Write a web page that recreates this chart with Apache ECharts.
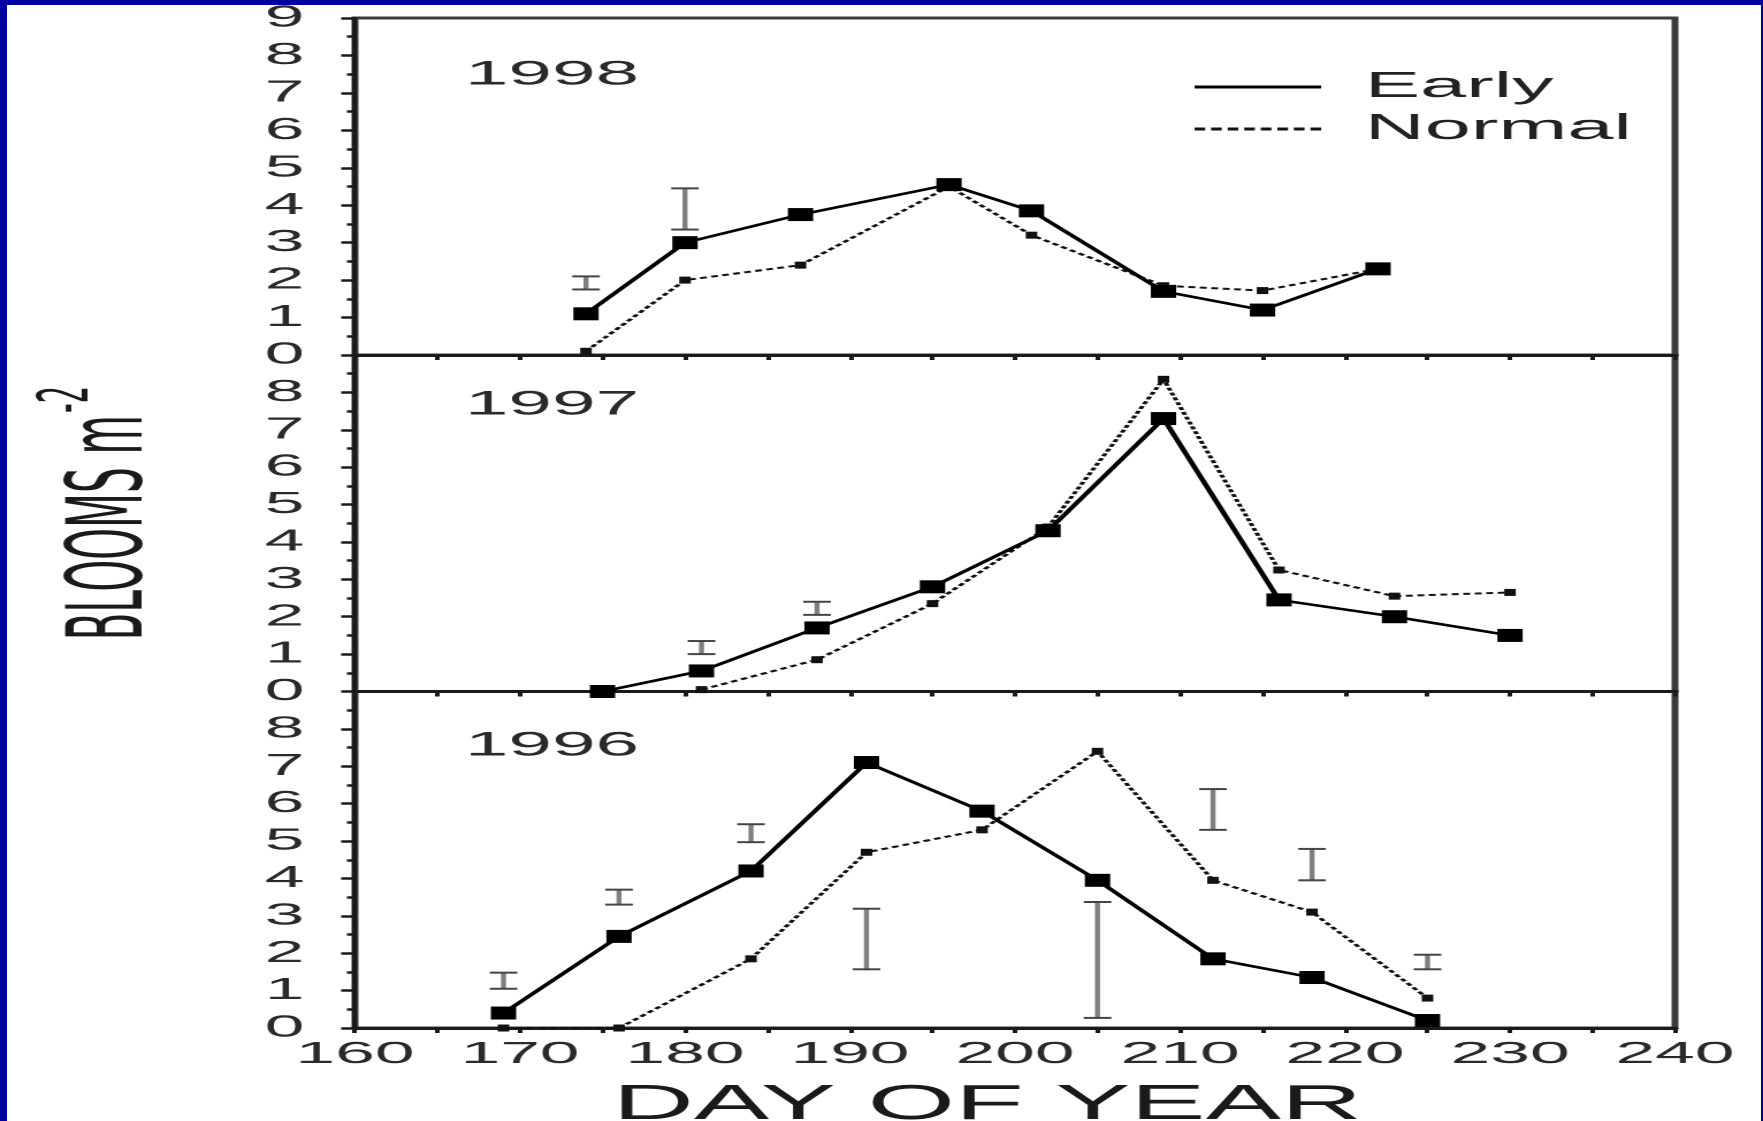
<!DOCTYPE html>
<html>
<head>
<meta charset="utf-8">
<title>Blooms m-2 by day of year</title>
<script src="https://cdn.jsdelivr.net/npm/echarts@6/dist/echarts.min.js"></script>
<style>
  html, body { margin: 0; padding: 0; background: #0000a0; }
  #page { position: relative; width: 1763px; height: 1121px; background: #0000a0; overflow: hidden; }
  #paper { position: absolute; left: 7px; top: 5px; width: 1754px; height: 1116px; background: #fff; }
  /* the original figure is stretched sideways, so the chart is drawn narrow and widened */
  #chart { position: absolute; left: 0; top: 0; width: 766px; height: 1121px; transform: scaleX(2.30157); transform-origin: 0 0; }
</style>
</head>
<body>
<div id="page"><div id="paper"></div><div id="chart"></div></div>
<script>
// 1998 (top panel)
const days1998 = [174, 180, 187, 196, 201, 209, 215, 222];
const early1998 = [1.1, 3.0, 3.75, 4.55, 3.85, 1.7, 1.2, 2.3];
const normal1998 = [0.1, 2.0, 2.4, 4.5, 3.2, 1.85, 1.72, 2.3];
const bars1998 = [[174, 1.75, 2.1], [180, 3.35, 4.45]];

// 1997 (middle panel)
const daysEarly1997 = [175, 181, 188, 195, 202, 209, 216, 223, 230];
const early1997 = [0, 0.55, 1.7, 2.8, 4.3, 7.3, 2.45, 2.0, 1.5];
const daysNormal1997 = [181, 188, 195, 202, 209, 216, 223, 230];
const normal1997 = [0.05, 0.85, 2.35, 4.4, 8.35, 3.25, 2.55, 2.65];
const bars1997 = [[181, 1.0, 1.35], [188, 2.05, 2.4]];

// 1996 (bottom panel)
const days1996 = [169, 176, 184, 191, 198, 205, 212, 218, 225];
const early1996 = [0.4, 2.45, 4.2, 7.1, 5.8, 3.95, 1.85, 1.35, 0.2];
const normal1996 = [0, 0, 1.85, 4.7, 5.3, 7.4, 3.95, 3.1, 0.8];
const bars1996 = [[169, 1.05, 1.48], [176, 3.3, 3.7], [184, 4.97, 5.45], [191, 1.57, 3.19],
                  [205, 0.27, 3.37], [212, 5.3, 6.39], [218, 3.95, 4.79], [225, 1.57, 1.96]];

const yearLabels = ['1998', '1997', '1996'];
const yTicks = [0, 9, 1];      // min, max, step
const xTicks = [160, 240, 5];

const SX = 1763 / 766;
const fontFamily = "'Liberation Sans', Arial, sans-serif";
const narrowFamily = "'Liberation Sans Narrow', 'DejaVu Sans Condensed', 'Liberation Sans', sans-serif";
const ink = '#1a1a1a';

const pairs = (days, vals) => days.map((d, k) => [d, vals[k]]);

// dashed legend sample
let dashPath = 'path://';
for (let k = 0; k < 8; k++) dashPath += 'M' + (k * 7) + ',0h4.5v1h-4.5z';

const gridLeft = 355 / SX;
const gridWidth = (1675 - 355) / SX;
const grids = [
    {top: 18, height: 337},
    {top: 355, height: 336.5},
    {top: 691.5, height: 336.5}
].map(g => ({
    ...g, left: gridLeft, width: gridWidth,
    outerBoundsMode: 'none', containLabel: false,
    show: true, borderColor: '#3a3a3a', borderWidth: 3
}));

const xAxes = [0, 1, 2].map(i => ({
    gridIndex: i,
    type: 'value',
    min: xTicks[0], max: xTicks[1], interval: xTicks[2],
    axisLine: {show: true, lineStyle: {color: ink, width: 3}},
    axisTick: {show: true, length: 5, lineStyle: {color: ink, width: 2}},
    axisLabel: {
        show: i === 2, margin: 11, fontSize: 31, color: '#2a2a2a', fontFamily,
        formatter: v => (v % 10 === 0 ? String(v) : '')
    },
    splitLine: {show: false},
    name: i === 2 ? 'DAY OF YEAR' : '',
    nameLocation: 'middle',
    nameGap: 53,
    nameTextStyle: {fontSize: 49, color: ink, fontFamily, padding: [0, 24, 0, 0]}
}));

const yAxes = [0, 1, 2].map(i => ({
    gridIndex: i,
    type: 'value',
    min: yTicks[0], max: yTicks[1], interval: yTicks[2],
    axisLine: {show: true, lineStyle: {color: ink, width: 2}},
    axisTick: {show: true, length: 6, lineStyle: {color: ink, width: 2.5}},
    minorTick: {show: true, splitNumber: 2, length: 3.5, lineStyle: {color: ink, width: 2.5}},
    axisLabel: {margin: 22, fontSize: 31, color: '#2a2a2a', fontFamily, showMaxLabel: i === 0},
    splitLine: {show: false},
    name: i === 1 ? '{a|BLOOMS m}{b|-2}' : '',
    nameLocation: 'middle',
    nameRotate: 90,
    nameGap: 82,
    nameTextStyle: {
        padding: [0, 0, 0, 20],
        rich: {
            a: {fontSize: 45, lineHeight: 45, verticalAlign: 'bottom', color: ink, fontFamily: narrowFamily},
            b: {fontSize: 30, lineHeight: 30, verticalAlign: 'bottom', padding: [0, 0, 27, 2], color: ink, fontFamily: narrowFamily}
        }
    }
}));

const earlySeries = (i, data) => ({
    name: 'Early', type: 'line', xAxisIndex: i, yAxisIndex: i, data,
    symbol: 'rect', symbolSize: [11, 13],
    itemStyle: {color: '#000'},
    lineStyle: {color: '#000', width: 2.5},
    z: 4
});
const normalSeries = (i, data) => ({
    name: 'Normal', type: 'line', xAxisIndex: i, yAxisIndex: i, data,
    symbol: 'rect', symbolSize: [5, 7],
    itemStyle: {color: '#111'},
    lineStyle: {color: '#111', width: 2, type: [3, 2]},
    z: 3
});
const barSeries = (i, data) => ({
    name: 'lsd' + i, type: 'custom', xAxisIndex: i, yAxisIndex: i, data,
    renderItem: (params, api) => {
        const lo = api.coord([api.value(0), api.value(1)]);
        const hi = api.coord([api.value(0), api.value(2)]);
        const cap = 6;
        return {
            type: 'group',
            children: [
                {type: 'line', shape: {x1: lo[0], y1: lo[1], x2: hi[0], y2: hi[1]}, style: {stroke: '#7f7f7f', lineWidth: 2.2}},
                {type: 'line', shape: {x1: lo[0] - cap, y1: lo[1], x2: lo[0] + cap, y2: lo[1]}, style: {stroke: '#444', lineWidth: 2}},
                {type: 'line', shape: {x1: hi[0] - cap, y1: hi[1], x2: hi[0] + cap, y2: hi[1]}, style: {stroke: '#444', lineWidth: 2}}
            ]
        };
    },
    z: 2
});

const yearTops = [58, 388, 729];

const myChart = echarts.init(document.getElementById('chart'), null, {devicePixelRatio: 2});
myChart.setOption({
    animation: false,
    title: yearLabels.map((t, i) => ({
        text: t, left: 202, top: yearTops[i], padding: 0,
        textStyle: {fontSize: 34, fontWeight: 'normal', color: '#2a2a2a', fontFamily}
    })),
    legend: {
        orient: 'vertical',
        left: 514, top: 64,
        itemWidth: 55, itemHeight: 3, itemGap: 6,
        symbolKeepAspect: false,
        textStyle: {fontSize: 36, lineHeight: 36, color: '#222', fontFamily, padding: [0, 0, 0, 14]},
        data: [{name: 'Early', icon: 'rect'}, {name: 'Normal', icon: dashPath}]
    },
    grid: grids,
    xAxis: xAxes,
    yAxis: yAxes,
    series: [
        barSeries(0, bars1998),
        normalSeries(0, pairs(days1998, normal1998)),
        earlySeries(0, pairs(days1998, early1998)),
        barSeries(1, bars1997),
        normalSeries(1, pairs(daysNormal1997, normal1997)),
        earlySeries(1, pairs(daysEarly1997, early1997)),
        barSeries(2, bars1996),
        normalSeries(2, pairs(days1996, normal1996)),
        earlySeries(2, pairs(days1996, early1996))
    ]
});
</script>
</body>
</html>
